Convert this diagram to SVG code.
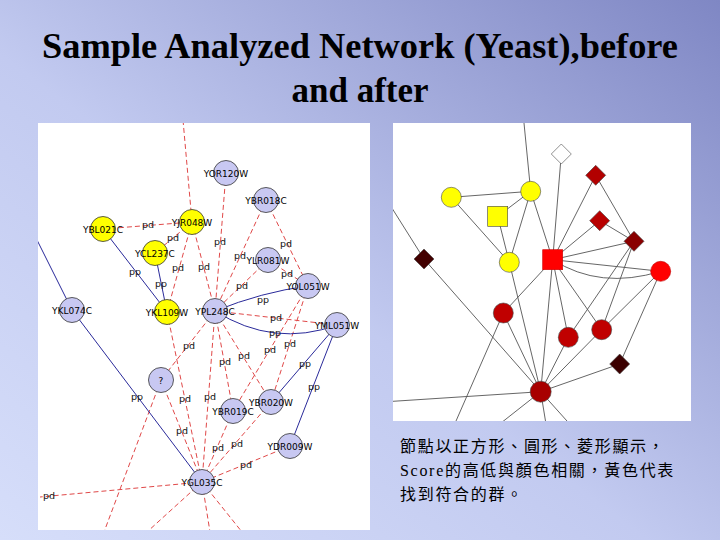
<svg xmlns="http://www.w3.org/2000/svg" width="720" height="540" viewBox="0 0 720 540">
<defs>
<linearGradient id="bg" x1="0" y1="1" x2="1" y2="0">
<stop offset="0" stop-color="#d6defa"/>
<stop offset="0.45" stop-color="#c2caf0"/>
<stop offset="1" stop-color="#7f87c4"/>
</linearGradient>
<clipPath id="clipL"><rect x="38" y="123" width="332" height="407"/></clipPath>
<clipPath id="clipR"><rect x="393" y="123" width="298" height="298"/></clipPath>
<style>
.title{font-family:"Liberation Serif","Times New Roman",serif;font-weight:bold;font-size:36px;fill:#000}
.pd{stroke:#e04848;stroke-width:1;stroke-dasharray:5,3;fill:none}
.pp{stroke:#2a2a9a;stroke-width:1;fill:none}
.el{font-family:"DejaVu Sans",sans-serif;font-size:9.5px;fill:#111;text-anchor:middle}
.nl{font-family:"DejaVu Sans",sans-serif;font-size:9px;fill:#000;text-anchor:middle}
.nb{fill:#c8c8f2;stroke:#333;stroke-width:0.8}
.ny{fill:#ffff00;stroke:#333;stroke-width:0.8}
.re{stroke:#555;stroke-width:0.9;fill:none}
.rn{stroke:#444;stroke-width:0.6}
.cjk{font-family:"Liberation Serif","Noto Sans CJK TC",serif;font-size:16px;fill:#000;letter-spacing:1.7px}
</style>
</defs>
<rect x="0" y="0" width="720" height="540" fill="url(#bg)"/>
<text class="title" x="360" y="58" text-anchor="middle" textLength="636" lengthAdjust="spacingAndGlyphs">Sample Analyzed Network (Yeast),before</text>
<text class="title" x="360" y="102" text-anchor="middle" textLength="137" lengthAdjust="spacingAndGlyphs">and after</text>

<rect x="38" y="123" width="332" height="407" fill="#ffffff"/>
<g id="connectors-left" clip-path="url(#clipL)">
<line class="pd" x1="183" y1="120" x2="192" y2="222"/>
<line class="pd" x1="103" y1="229" x2="192" y2="222"/>
<line class="pd" x1="192" y1="222" x2="155" y2="253"/>
<line class="pd" x1="192" y1="222" x2="167" y2="312"/>
<line class="pd" x1="192" y1="222" x2="215" y2="311"/>
<line class="pd" x1="226" y1="173" x2="215" y2="311"/>
<line class="pd" x1="266" y1="200" x2="215" y2="311"/>
<line class="pd" x1="266" y1="200" x2="308" y2="286"/>
<line class="pd" x1="268" y1="260" x2="215" y2="311"/>
<line class="pd" x1="268" y1="260" x2="308" y2="286"/>
<line class="pd" x1="215" y1="311" x2="337" y2="325"/>
<line class="pd" x1="215" y1="311" x2="161" y2="380"/>
<line class="pd" x1="167" y1="312" x2="202" y2="482"/>
<line class="pd" x1="215" y1="311" x2="233" y2="411"/>
<line class="pd" x1="215" y1="311" x2="271" y2="402"/>
<line class="pd" x1="215" y1="311" x2="202" y2="482"/>
<line class="pd" x1="308" y1="286" x2="233" y2="411"/>
<line class="pd" x1="308" y1="286" x2="271" y2="402"/>
<line class="pd" x1="233" y1="411" x2="202" y2="482"/>
<line class="pd" x1="271" y1="402" x2="202" y2="482"/>
<line class="pd" x1="290" y1="446" x2="202" y2="482"/>
<line class="pd" x1="161" y1="380" x2="202" y2="482"/>
<line class="pd" x1="202" y1="482" x2="40" y2="497"/>
<line class="pd" x1="161" y1="380" x2="104" y2="532"/>
<line class="pd" x1="202" y1="482" x2="147" y2="532"/>
<line class="pd" x1="202" y1="482" x2="210" y2="532"/>
<line class="pd" x1="202" y1="482" x2="242" y2="532"/>
<line class="pp" x1="36" y1="238" x2="72" y2="310"/>
<line class="pp" x1="72" y1="310" x2="202" y2="482"/>
<line class="pp" x1="103" y1="229" x2="167" y2="312"/>
<line class="pp" x1="155" y1="253" x2="167" y2="312"/>
<path class="pp" d="M215,311 Q262,292 308,286"/>
<path class="pp" d="M215,311 Q274,348 337,325"/>
<line class="pp" x1="337" y1="325" x2="271" y2="402"/>
<line class="pp" x1="337" y1="325" x2="290" y2="446"/>
</g>
<g id="edge-labels-left">
<text class="el" x="148" y="228">pd</text>
<text class="el" x="173" y="241">pd</text>
<text class="el" x="220" y="245">pd</text>
<text class="el" x="286" y="247">pd</text>
<text class="el" x="240" y="259">pd</text>
<text class="el" x="178" y="271">pd</text>
<text class="el" x="204" y="270">pd</text>
<text class="el" x="287" y="277">pd</text>
<text class="el" x="242" y="289">pd</text>
<text class="el" x="263" y="303">pp</text>
<text class="el" x="276" y="321">pd</text>
<text class="el" x="275" y="336">pp</text>
<text class="el" x="189" y="349">pd</text>
<text class="el" x="270" y="353">pd</text>
<text class="el" x="290" y="347">pd</text>
<text class="el" x="244" y="359">pd</text>
<text class="el" x="225" y="365">pd</text>
<text class="el" x="305" y="367">pp</text>
<text class="el" x="314" y="390">pp</text>
<text class="el" x="137" y="400">pp</text>
<text class="el" x="185" y="402">pd</text>
<text class="el" x="210" y="400">pd</text>
<text class="el" x="182" y="434">pd</text>
<text class="el" x="218" y="451">pd</text>
<text class="el" x="237" y="447">pd</text>
<text class="el" x="246" y="468">pd</text>
<text class="el" x="49" y="499">pd</text>
<text class="el" x="135" y="275">pp</text>
<text class="el" x="161" y="287">pp</text>
</g>
<g id="YOR120W"><circle class="nb" cx="226" cy="173" r="12.5"/><text class="nl" x="226" y="176.5">YOR120W</text></g>
<g id="YBR018C"><circle class="nb" cx="266" cy="200" r="12.5"/><text class="nl" x="266" y="203.5">YBR018C</text></g>
<g id="YJR048W"><circle class="ny" cx="192" cy="222" r="12.5"/><text class="nl" x="192" y="225.5">YJR048W</text></g>
<g id="YBL021C"><circle class="ny" cx="103" cy="229" r="12.5"/><text class="nl" x="103" y="232.5">YBL021C</text></g>
<g id="YCL237C"><circle class="ny" cx="155" cy="253" r="12.5"/><text class="nl" x="155" y="256.5">YCL237C</text></g>
<g id="YLR081W"><circle class="nb" cx="268" cy="260" r="12.5"/><text class="nl" x="268" y="263.5">YLR081W</text></g>
<g id="YOL051W"><circle class="nb" cx="308" cy="286" r="12.5"/><text class="nl" x="308" y="289.5">YOL051W</text></g>
<g id="YKL074C"><circle class="nb" cx="72" cy="310" r="12.5"/><text class="nl" x="72" y="313.5">YKL074C</text></g>
<g id="YKL109W"><circle class="ny" cx="167" cy="312" r="12.5"/><text class="nl" x="167" y="315.5">YKL109W</text></g>
<g id="YPL248C"><circle class="nb" cx="215" cy="311" r="12.5"/><text class="nl" x="215" y="314.5">YPL248C</text></g>
<g id="YML051W"><circle class="nb" cx="337" cy="325" r="12.5"/><text class="nl" x="337" y="328.5">YML051W</text></g>
<g id="unknown"><circle class="nb" cx="161" cy="380" r="12.5"/><text class="nl" x="161" y="383.5">?</text></g>
<g id="YBR020W"><circle class="nb" cx="271" cy="402" r="12.5"/><text class="nl" x="271" y="405.5">YBR020W</text></g>
<g id="YBR019C"><circle class="nb" cx="233" cy="411" r="12.5"/><text class="nl" x="233" y="414.5">YBR019C</text></g>
<g id="YDR009W"><circle class="nb" cx="290" cy="446" r="12.5"/><text class="nl" x="290" y="449.5">YDR009W</text></g>
<g id="YGL035C"><circle class="nb" cx="202" cy="482" r="12.5"/><text class="nl" x="202" y="485.5">YGL035C</text></g>

<rect x="393" y="123" width="298" height="298" fill="#ffffff"/>
<g id="connectors-right" clip-path="url(#clipR)">
<line class="re" x1="523.7" y1="120" x2="530.7" y2="191.3"/>
<line class="re" x1="451.3" y1="197.3" x2="530.7" y2="191.3"/>
<line class="re" x1="497.7" y1="216.3" x2="530.7" y2="191.3"/>
<line class="re" x1="451.3" y1="197.3" x2="509.3" y2="262.3"/>
<line class="re" x1="497.7" y1="216.3" x2="509.3" y2="262.3"/>
<line class="re" x1="530.7" y1="191.3" x2="509.3" y2="262.3"/>
<line class="re" x1="530.7" y1="191.3" x2="552.7" y2="259.7"/>
<line class="re" x1="561.3" y1="154" x2="552.7" y2="259.7"/>
<line class="re" x1="595.7" y1="175.3" x2="552.7" y2="259.7"/>
<line class="re" x1="595.7" y1="175.3" x2="634" y2="241.3"/>
<line class="re" x1="599.7" y1="220.7" x2="552.7" y2="259.7"/>
<line class="re" x1="599.7" y1="220.7" x2="634" y2="241.3"/>
<line class="re" x1="634" y1="241.3" x2="552.7" y2="259.7"/>
<line class="re" x1="552.7" y1="259.7" x2="660.7" y2="271.3"/>
<path class="re" d="M552.7,259.7 Q600,290 660.7,271.3"/>
<line class="re" x1="390" y1="205" x2="424" y2="259"/>
<line class="re" x1="424" y1="259" x2="540.7" y2="391.7"/>
<line class="re" x1="509.3" y1="262.3" x2="540.7" y2="391.7"/>
<line class="re" x1="552.7" y1="259.7" x2="503.3" y2="313"/>
<line class="re" x1="552.7" y1="259.7" x2="540.7" y2="391.7"/>
<line class="re" x1="552.7" y1="259.7" x2="568.3" y2="337.3"/>
<line class="re" x1="552.7" y1="259.7" x2="601.7" y2="329.7"/>
<line class="re" x1="634" y1="241.3" x2="568.3" y2="337.3"/>
<line class="re" x1="634" y1="241.3" x2="601.7" y2="329.7"/>
<line class="re" x1="660.7" y1="271.3" x2="601.7" y2="329.7"/>
<line class="re" x1="660.7" y1="271.3" x2="619.7" y2="364"/>
<line class="re" x1="619.7" y1="364" x2="540.7" y2="391.7"/>
<line class="re" x1="503.3" y1="313" x2="540.7" y2="391.7"/>
<line class="re" x1="503.3" y1="313" x2="454.7" y2="424"/>
<line class="re" x1="568.3" y1="337.3" x2="540.7" y2="391.7"/>
<line class="re" x1="601.7" y1="329.7" x2="540.7" y2="391.7"/>
<line class="re" x1="540.7" y1="391.7" x2="390" y2="401.5"/>
<line class="re" x1="540.7" y1="391.7" x2="499.7" y2="424"/>
<line class="re" x1="540.7" y1="391.7" x2="546" y2="424"/>
<line class="re" x1="540.7" y1="391.7" x2="569.7" y2="424"/>
</g>
<g id="r-white-diamond"><polygon class="rn" points="561.3,144 571.3,154 561.3,164 551.3,154" fill="#ffffff" stroke="#777"/></g>
<g id="r-diamond-a"><polygon class="rn" points="595.7,165.3 605.7,175.3 595.7,185.3 585.7,175.3" fill="#b20000"/></g>
<g id="r-diamond-b"><polygon class="rn" points="599.7,210.7 609.7,220.7 599.7,230.7 589.7,220.7" fill="#b80000"/></g>
<g id="r-diamond-c"><polygon class="rn" points="634,231.3 644,241.3 634,251.3 624,241.3" fill="#8a0000"/></g>
<g id="r-diamond-d"><polygon class="rn" points="424,249 434,259 424,269 414,259" fill="#420000"/></g>
<g id="r-diamond-e"><polygon class="rn" points="619.7,354 629.7,364 619.7,374 609.7,364" fill="#3c0000"/></g>
<g id="r-yellow-1"><circle class="rn" cx="451.3" cy="197.3" r="10" fill="#ffff00"/></g>
<g id="r-yellow-2"><circle class="rn" cx="530.7" cy="191.3" r="10" fill="#ffff00"/></g>
<g id="r-yellow-square"><rect class="rn" x="487.7" y="206.3" width="20" height="20" fill="#ffff00"/></g>
<g id="r-yellow-3"><circle class="rn" cx="509.3" cy="262.3" r="10" fill="#ffff00"/></g>
<g id="r-red-square"><rect x="542.7" y="249.7" width="20" height="20" fill="#ff0000" stroke="#d00000" stroke-width="0.6"/></g>
<g id="r-red-circle"><circle cx="660.7" cy="271.3" r="10" fill="#ff0000" stroke="#c00000" stroke-width="0.6"/></g>
<g id="r-circle-1"><circle class="rn" cx="503.3" cy="313" r="10" fill="#c00000"/></g>
<g id="r-circle-2"><circle class="rn" cx="568.3" cy="337.3" r="10" fill="#c00000"/></g>
<g id="r-circle-3"><circle class="rn" cx="601.7" cy="329.7" r="10" fill="#c00000"/></g>
<g id="r-circle-4"><circle class="rn" cx="540.7" cy="391.7" r="10.5" fill="#a80000"/></g>

<g id="caption">
<text class="cjk" x="400" y="452">節點以正方形、圓形、菱形顯示，</text>
<text class="cjk" x="400" y="476">Score的高低與顏色相關，黃色代表</text>
<text class="cjk" x="400" y="500">找到符合的群。</text>
</g>
</svg>
